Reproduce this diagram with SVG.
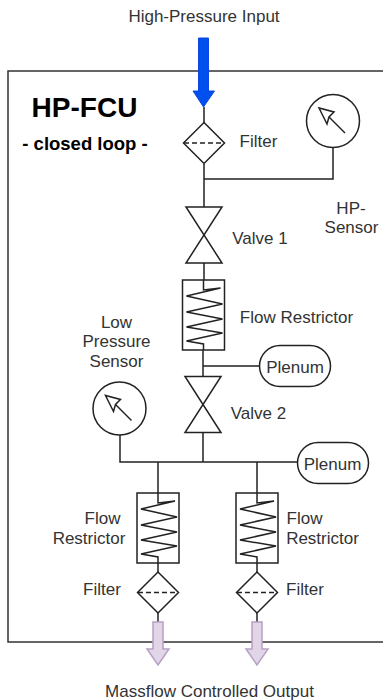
<svg xmlns="http://www.w3.org/2000/svg" width="383" height="700" viewBox="0 0 383 700">
<style>
text{font-family:"Liberation Sans",Arial,sans-serif;font-size:17px;fill:#333;text-anchor:middle}
.b{font-weight:bold;fill:#000}
.l{fill:none;stroke:#222;stroke-width:1.5}
.s{fill:#fff;stroke:#222;stroke-width:1.5}
.d{fill:none;stroke:#222;stroke-width:1.5;stroke-dasharray:5 3}
.z{fill:none;stroke:#222;stroke-width:1.5;stroke-linejoin:miter}
</style>
<defs>
<g id="filter"><path class="s" d="M0-20.500L20.500 0 0 20.500-20.500 0Z"/><path class="d" d="M-20 0H20"/></g>
<g id="valve"><path class="s" d="M-18-28H18L-18 28H18Z"/></g>
<g id="gauge"><circle class="s" cx="0" cy="0" r="26.500"/><path class="l" d="M-4-4L12 12"/><path class="s" d="M-14-13L-6 3-4-4 1-9Z"/></g>
<g id="restrictor"><rect class="s" x="-21" y="0" width="42" height="70"/><path class="z" d="M0 0V10L17 8-17 16 19 24-17 32 19 39-17 47 19 53-17 61 0 64V70"/></g>
</defs>
<rect id="frame" x="8" y="71" width="390" height="571" fill="#fff" stroke="#333" stroke-width="1.500"/>
<g id="connectors">
<path class="l" d="M204 107V123M204 164V207M204 179H333V148M204 263V280M203 350V377M203 366H259M203 432V462M120 435V462H297M158 462V493M257 462V493M158 563V572M257 563V572M158 613V622M257 613V622"/>
</g>
<g id="input-arrow"><path d="M198.500 38H208.500V91H214.500L203.500 107 193 91H198.500Z" fill="#0050ef" stroke="#0a48e0" stroke-width="1"/></g>
<g id="filter-top"><use href="#filter" x="204" y="143"/></g>
<g id="hp-sensor"><use href="#gauge" x="333" y="121"/></g>
<g id="valve1"><use href="#valve" x="204" y="235"/></g>
<g id="restrictor-main"><use href="#restrictor" x="203.500" y="280"/></g>
<g id="plenum1"><rect class="s" x="259.500" y="345.500" width="71" height="41" rx="20.500"/><text x="295" y="373">Plenum</text></g>
<g id="valve2"><use href="#valve" x="203" y="404.500"/></g>
<g id="lp-sensor"><use href="#gauge" x="119.500" y="408.500"/></g>
<g id="plenum2"><rect class="s" x="297.500" y="442.500" width="71" height="41" rx="20.500"/><text x="332.500" y="470">Plenum</text></g>
<g id="restrictor-left"><use href="#restrictor" x="158" y="493"/></g>
<g id="restrictor-right"><use href="#restrictor" x="257" y="493"/></g>
<g id="filter-left"><use href="#filter" x="158" y="592.500"/></g>
<g id="filter-right"><use href="#filter" x="257" y="592.500"/></g>
<g id="output-left"><path d="M153 622H163V649H169L158 665 147 649H153Z" fill="#e1d5e7" stroke="#b7a0c4" stroke-width="1.500"/></g>
<g id="output-right"><path d="M252 622H262V649H268L257 665 246 649H252Z" fill="#e1d5e7" stroke="#b7a0c4" stroke-width="1.500"/></g>
<g id="labels">
<text x="204" y="22">High-Pressure Input</text>
<text class="b" x="84.500" y="117" style="font-size:28px">HP-FCU</text>
<text class="b" x="85" y="150" style="font-size:18.500px">- closed loop -</text>
<text x="258.500" y="147">Filter</text>
<text x="351" y="213.500">HP-</text>
<text x="351.500" y="233">Sensor</text>
<text x="260" y="244">Valve 1</text>
<text x="296.500" y="323">Flow Restrictor</text>
<text x="116.500" y="328">Low</text>
<text x="116.500" y="347">Pressure</text>
<text x="116.500" y="367">Sensor</text>
<text x="258.500" y="418.500">Valve 2</text>
<text x="102.500" y="524">Flow</text>
<text x="89" y="544">Restrictor</text>
<text x="304.500" y="524">Flow</text>
<text x="322.500" y="544">Restrictor</text>
<text x="102" y="595">Filter</text>
<text x="305" y="595">Filter</text>
<text x="209.500" y="697">Massflow Controlled Output</text>
</g>
</svg>
